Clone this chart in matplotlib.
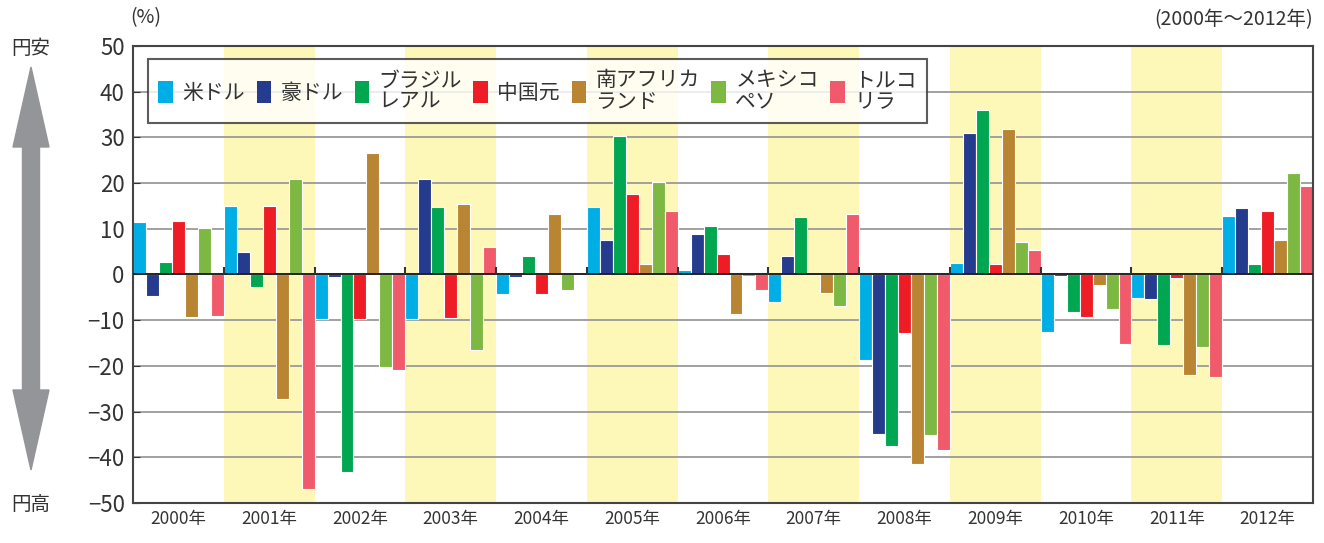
import numpy as np
import matplotlib
matplotlib.use("Agg")
import matplotlib.pyplot as plt
from matplotlib.patches import FancyArrow, Patch

plt.rcParams['font.family'] = ['Noto Sans CJK JP', 'DejaVu Sans']

years = ['2000年', '2001年', '2002年', '2003年', '2004年', '2005年', '2006年',
         '2007年', '2008年', '2009年', '2010年', '2011年', '2012年']
currencies = ['米ドル', '豪ドル', 'ブラジル\nレアル', '中国元', '南アフリカ\nランド', 'メキシコ\nペソ', 'トルコ\nリラ']
colors = ['#00aee6', '#253c8e', '#00a650', '#ee1c25', '#b98532', '#7db843', '#f05a6a']

usd = [11.5, 15.0, -9.7, -9.7, -4.2, 14.7, 1.0, -6.1, -18.8, 2.5, -12.6, -5.1, 12.7]
aud = [-4.8, 5.0, -0.6, 20.9, -0.6, 7.6, 8.8, 4.0, -34.8, 31.0, -0.4, -5.3, 14.6]
brl = [2.8, -2.8, -43.2, 14.8, 4.1, 30.2, 10.6, 12.6, -37.6, 36.1, -8.2, -15.5, 2.4]
cny = [11.6, 15.0, -9.7, -9.6, -4.2, 17.6, 4.4, 0.3, -12.9, 2.4, -9.4, -0.7, 13.9]
zar = [-9.3, -27.3, 26.5, 15.4, 13.2, 2.3, -8.6, -4.1, -41.4, 31.9, -2.4, -22.1, 7.6]
mxn = [10.2, 20.8, -20.2, -16.5, -3.5, 20.2, -0.3, -7.0, -35.2, 7.1, -7.5, -15.9, 22.3]
tryl = [-9.0, -47.0, -20.9, 6.1, 0.3, 13.9, -3.3, 13.3, -38.3, 5.4, -15.2, -22.5, 19.3]
series = [usd, aud, brl, cny, zar, mxn, tryl]

fig = plt.figure(figsize=(13.24, 5.43), dpi=100)
ax = fig.add_axes([0.1005, 0.0737, 0.8912, 0.8416])

n = len(years)
k = len(series)
w = 1.0 / k
x = np.arange(n)

# shaded odd years
for i in range(1, n, 2):
    ax.axvspan(i, i + 1, color='#fdf8b8', zorder=0, lw=0)

for v in range(-40, 50, 10):
    if v != 0:
        ax.axhline(v, color='#9a9a9a', lw=1.3, zorder=1)

for j, (vals, c) in enumerate(zip(series, colors)):
    ax.bar(x + (j + 0.5) * w, vals, width=w, color=c, edgecolor='white',
           linewidth=0.8, zorder=2, label=currencies[j])

ax.axhline(0, color='#222222', lw=1.4, zorder=3)
ax.vlines(np.arange(1, n), 0, 1.6, color='#333333', lw=1.5, zorder=3)

ax.set_xlim(0, n)
ax.set_ylim(-50, 50)
ax.set_yticks(range(-50, 51, 10))
ax.set_xticks(x + 0.5)
ax.set_xticklabels(years, fontsize=12.5, color='#333333')
ax.tick_params(axis='x', length=0, pad=5)
ax.tick_params(axis='y', direction='in', length=5, labelsize=16, colors='#333333',
               labelcolor='#333333', pad=6)
for s in ax.spines.values():
    s.set_color('#444444')
    s.set_linewidth(1.5)

handles = [Patch(facecolor=c, edgecolor='none') for c in colors]
leg = ax.legend(handles, currencies, ncol=7, loc='upper left',
                bbox_to_anchor=(0.0127, 0.9716), fontsize=15, frameon=True,
                fancybox=False, handlelength=0.7, handleheight=1.25,
                handletextpad=0.45, columnspacing=0.55, borderpad=0.5,
                borderaxespad=0, labelspacing=0.2)
leg.get_frame().set_edgecolor('#333333')
leg.get_frame().set_linewidth(1.5)
for t in leg.get_texts():
    t.set_color('#333333')
    t.set_linespacing(0.95)

fig.text(130 / 1324, 1 - 18 / 543, '(%)', fontsize=14, color='#333333', va='center')
fig.text(1313 / 1324, 1 - 20 / 543, '(2000年～2012年)', fontsize=14, color='#333333',
         va='center', ha='right')

# yen arrow
arrow_kw = dict(width=0.17, head_width=0.36, head_length=0.8, length_includes_head=True,
                color='#939598', transform=fig.dpi_scale_trans)
fig.patches.append(FancyArrow(0.31, 2.74, 0, 4.76 - 2.74, **arrow_kw))
fig.patches.append(FancyArrow(0.31, 2.74, 0, 0.73 - 2.74, **arrow_kw))
fig.text(31 / 1324, 1 - 48 / 543, '円安', fontsize=14, color='#333333', ha='center', va='center')
fig.text(31 / 1324, 1 - 505 / 543, '円高', fontsize=14, color='#333333', ha='center', va='center')

fig.savefig('out.png', dpi=100)
